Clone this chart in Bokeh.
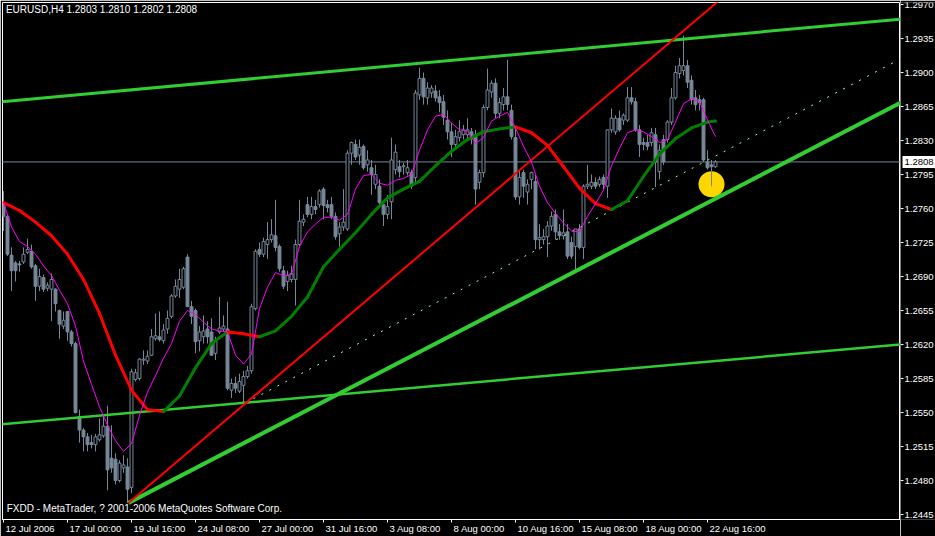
from bokeh.plotting import figure
from bokeh.layouts import row
from bokeh.models import (Range1d, FixedTicker, Label, ColumnDataSource, LinearAxis)
from bokeh.core.properties import value
from bokeh.embed import file_html
from bokeh.resources import INLINE

# ---------------- data (EURUSD H4, bar index 0 = 12 Jul 2006) ----------------
opens = [1.2764,1.2752,1.2712,1.2704,1.2703,1.2705,1.2715,1.2716,1.2701,1.2680,
1.2689,1.2678,1.2677,1.2677,1.2655,1.2639,1.2654,1.2633,1.2621,1.2546,
1.2532,1.2525,1.2519,1.2517,1.2522,1.2526,1.2536,1.2503,1.2502,1.2480,
1.2493,1.2494,1.2473,1.2584,1.2585,1.2604,1.2603,1.2609,1.2626,1.2628,
1.2624,1.2636,1.2649,1.2670,1.2677,1.2679,1.2710,1.2659,1.2655,1.2624,
1.2628,1.2636,1.2633,1.2611,1.2633,1.2636,1.2636,1.2573,1.2580,1.2572,
1.2578,1.2587,1.2593,1.2657,1.2718,1.2713,1.2723,1.2728,1.2732,1.2721,
1.2696,1.2685,1.2687,1.2687,1.2723,1.2746,1.2764,1.2754,1.2762,1.2764,
1.2780,1.2764,1.2764,1.2752,1.2734,1.2741,1.2739,1.2817,1.2826,1.2815,
1.2824,1.2805,1.2802,1.2785,1.2783,1.2764,1.2754,1.2767,1.2800,1.2803,
1.2803,1.2797,1.2797,1.2792,1.2877,1.2894,1.2874,1.2879,1.2881,1.2875,
1.2870,1.2851,1.2839,1.2826,1.2833,1.2836,1.2836,1.2839,1.2836,1.2787,
1.2797,1.2864,1.2880,1.2889,1.2858,1.2867,1.2875,1.2861,1.2833,1.2772,
1.2797,1.2777,1.2790,1.2788,1.2728,1.2728,1.2731,1.2742,1.2754,1.2736,
1.2732,1.2736,1.2725,1.2721,1.2739,1.2720,1.2783,1.2783,1.2787,1.2785,
1.2792,1.2783,1.2841,1.2839,1.2853,1.2851,1.2851,1.2874,1.2870,1.2841,
1.2828,1.2828,1.2828,1.2836,1.2798,1.2831,1.2831,1.2849,1.2874,1.2899,
1.2902,1.2907,1.2892,1.2874,1.2872,1.2872,1.2808,1.2805,1.2803]

highs = [1.2778,1.2754,1.2720,1.2706,1.2706,1.2720,1.2729,1.2723,1.2703,1.2698,
1.2692,1.2684,1.2693,1.2678,1.2656,1.2654,1.2654,1.2635,1.2623,1.2553,
1.2534,1.2529,1.2527,1.2528,1.2544,1.2547,1.2557,1.2537,1.2508,1.2501,
1.2506,1.2503,1.2595,1.2595,1.2606,1.2614,1.2614,1.2636,1.2652,1.2654,
1.2641,1.2655,1.2672,1.2687,1.2698,1.2700,1.2713,1.2665,1.2657,1.2639,
1.2650,1.2644,1.2647,1.2628,1.2669,1.2650,1.2664,1.2585,1.2587,1.2590,
1.2593,1.2598,1.2662,1.2718,1.2725,1.2730,1.2746,1.2749,1.2769,1.2723,
1.2701,1.2696,1.2701,1.2728,1.2769,1.2754,1.2772,1.2772,1.2769,1.2780,
1.2782,1.2769,1.2772,1.2756,1.2746,1.2780,1.2820,1.2829,1.2831,1.2831,
1.2826,1.2820,1.2810,1.2805,1.2790,1.2769,1.2774,1.2833,1.2826,1.2810,
1.2807,1.2810,1.2800,1.2882,1.2905,1.2900,1.2890,1.2887,1.2887,1.2882,
1.2877,1.2861,1.2848,1.2841,1.2851,1.2846,1.2853,1.2843,1.2841,1.2800,
1.2867,1.2904,1.2892,1.2894,1.2874,1.2884,1.2913,1.2867,1.2845,1.2800,
1.2800,1.2790,1.2798,1.2795,1.2744,1.2739,1.2747,1.2757,1.2759,1.2744,
1.2759,1.2744,1.2731,1.2739,1.2744,1.2785,1.2805,1.2795,1.2792,1.2793,
1.2795,1.2841,1.2863,1.2856,1.2861,1.2858,1.2885,1.2885,1.2874,1.2846,
1.2833,1.2836,1.2843,1.2843,1.2826,1.2836,1.2851,1.2884,1.2907,1.2915,
1.2938,1.2913,1.2897,1.2882,1.2877,1.2874,1.2820,1.2810,1.2810]

lows = [1.2737,1.2711,1.2675,1.2685,1.2695,1.2703,1.2713,1.2698,1.2665,1.2675,
1.2674,1.2675,1.2644,1.2654,1.2626,1.2636,1.2624,1.2618,1.2549,1.2519,
1.2510,1.2510,1.2513,1.2510,1.2520,1.2524,1.2470,1.2488,1.2476,1.2478,
1.2488,1.2457,1.2467,1.2582,1.2583,1.2599,1.2600,1.2608,1.2624,1.2623,
1.2621,1.2631,1.2647,1.2668,1.2668,1.2677,1.2659,1.2641,1.2611,1.2613,
1.2621,1.2621,1.2609,1.2604,1.2631,1.2633,1.2573,1.2565,1.2570,1.2570,
1.2557,1.2585,1.2590,1.2655,1.2710,1.2710,1.2708,1.2725,1.2716,1.2695,
1.2677,1.2675,1.2684,1.2660,1.2721,1.2742,1.2751,1.2749,1.2754,1.2761,
1.2749,1.2756,1.2749,1.2728,1.2721,1.2737,1.2737,1.2805,1.2810,1.2805,
1.2800,1.2798,1.2774,1.2780,1.2761,1.2742,1.2749,1.2749,1.2795,1.2792,
1.2795,1.2794,1.2780,1.2785,1.2872,1.2867,1.2867,1.2874,1.2870,1.2859,
1.2846,1.2831,1.2813,1.2820,1.2829,1.2831,1.2831,1.2826,1.2764,1.2780,
1.2792,1.2861,1.2874,1.2853,1.2853,1.2861,1.2861,1.2831,1.2769,1.2764,
1.2771,1.2764,1.2780,1.2718,1.2718,1.2723,1.2710,1.2737,1.2728,1.2728,
1.2728,1.2708,1.2708,1.2695,1.2718,1.2708,1.2780,1.2780,1.2780,1.2782,
1.2780,1.2771,1.2838,1.2836,1.2839,1.2846,1.2849,1.2867,1.2839,1.2813,
1.2820,1.2820,1.2824,1.2782,1.2790,1.2805,1.2828,1.2846,1.2872,1.2894,
1.2897,1.2884,1.2867,1.2861,1.2861,1.2808,1.2800,1.2783,1.2802]

closes = [1.2752,1.2713,1.2696,1.2696,1.2702,1.2713,1.2718,1.2700,1.2680,1.2690,
1.2677,1.2681,1.2687,1.2662,1.2641,1.2645,1.2633,1.2621,1.2550,1.2532,
1.2525,1.2517,1.2517,1.2525,1.2527,1.2536,1.2491,1.2493,1.2480,1.2498,
1.2496,1.2471,1.2592,1.2591,1.2605,1.2605,1.2608,1.2628,1.2629,1.2625,
1.2635,1.2647,1.2670,1.2680,1.2687,1.2698,1.2659,1.2649,1.2623,1.2633,
1.2634,1.2628,1.2609,1.2624,1.2637,1.2639,1.2575,1.2580,1.2575,1.2582,
1.2587,1.2593,1.2659,1.2716,1.2713,1.2726,1.2728,1.2733,1.2720,1.2698,
1.2680,1.2691,1.2693,1.2723,1.2747,1.2749,1.2754,1.2762,1.2759,1.2778,
1.2763,1.2761,1.2752,1.2731,1.2741,1.2746,1.2817,1.2828,1.2813,1.2823,
1.2802,1.2810,1.2795,1.2795,1.2766,1.2754,1.2762,1.2810,1.2818,1.2798,
1.2804,1.2802,1.2783,1.2879,1.2894,1.2875,1.2884,1.2884,1.2874,1.2869,
1.2854,1.2839,1.2826,1.2834,1.2839,1.2841,1.2841,1.2834,1.2780,1.2797,
1.2864,1.2882,1.2889,1.2858,1.2869,1.2875,1.2867,1.2834,1.2772,1.2792,
1.2783,1.2785,1.2797,1.2728,1.2730,1.2731,1.2742,1.2752,1.2736,1.2732,
1.2735,1.2711,1.2711,1.2739,1.2720,1.2783,1.2785,1.2787,1.2783,1.2790,
1.2785,1.2841,1.2853,1.2853,1.2841,1.2856,1.2874,1.2870,1.2841,1.2826,
1.2826,1.2824,1.2838,1.2808,1.2820,1.2808,1.2849,1.2874,1.2900,1.2907,
1.2907,1.2890,1.2872,1.2867,1.2869,1.2810,1.2802,1.2803,1.2808]

# fast moving average (magenta), one value every 2 bars
fast_ma_bars = list(range(0, 179, 2))
fast_ma = [1.2766,1.2741,1.2726,1.2721,1.2713,1.2701,1.2691,1.2676,1.2662,1.2639,
1.2603,1.2579,1.2556,1.2537,1.2521,1.2510,1.2518,1.2547,1.2571,1.2588,
1.2606,1.2621,1.2644,1.2655,1.2651,1.2643,1.2636,1.2634,1.2633,1.2609,
1.2600,1.2610,1.2657,1.2679,1.2694,1.2691,1.2692,1.2721,1.2736,1.2744,
1.2751,1.2751,1.2748,1.2754,1.2780,1.2794,1.2795,1.2786,1.2784,1.2789,
1.2791,1.2795,1.2820,1.2841,1.2855,1.2857,1.2848,1.2841,1.2840,1.2827,
1.2833,1.2850,1.2855,1.2859,1.2843,1.2824,1.2808,1.2783,1.2766,1.2755,
1.2745,1.2737,1.2736,1.2752,1.2765,1.2779,1.2804,1.2822,1.2838,1.2841,
1.2839,1.2834,1.2828,1.2831,1.2849,1.2868,1.2873,1.2870,1.2851,1.2834]

# slow moving average (red while falling, green while rising), every 4 bars
slow_ma_bars = list(range(0, 177, 4)) + [178]
slow_ma = [1.2766,1.2758,1.2746,1.2732,1.2713,1.2687,1.2652,1.2609,1.2573,1.2553,
1.2551,1.2567,1.2596,1.2621,1.2633,1.2631,1.2628,1.2634,1.2649,1.2669,
1.2700,1.2718,1.2735,1.2754,1.2771,1.2780,1.2788,1.2804,1.2819,1.2831,
1.2839,1.2842,1.2844,1.2838,1.2825,1.2803,1.2781,1.2765,1.2759,1.2768,
1.2793,1.2816,1.2832,1.2843,1.2849,1.2850]

# hand-drawn trend lines: (bar, price) anchor pairs
top_channel = [(-0.25, 1.2870), (224.25, 1.2955)]
low_channel = [(-0.25, 1.2538), (224.25, 1.2620)]
support_ray = [(31.25, 1.2457), (224.25, 1.2869)]
steep_ray = [(31.25, 1.2457), (170.0, 1.2943)]
dotted_ray = [(60.5, 1.2560), (224.25, 1.2914)]

mark_bar, mark_price = 177, 1.2785

x_tick_bars = [0, 16, 32, 48, 64, 80, 96, 112, 128, 144, 160, 176]
x_tick_labels = ["12 Jul 2006", "17 Jul 00:00", "19 Jul 16:00", "24 Jul 08:00",
                 "27 Jul 00:00", "31 Jul 16:00", "3 Aug 08:00", "8 Aug 00:00",
                 "10 Aug 16:00", "15 Aug 08:00", "18 Aug 00:00", "22 Aug 16:00"]
y_ticks = [1.2445, 1.2480, 1.2515, 1.2550, 1.2585, 1.2620, 1.2655, 1.2690,
           1.2725, 1.2760, 1.2795, 1.2830, 1.2865, 1.2900, 1.2935, 1.2970]

# ---------------- layout constants ----------------
FONT = "Liberation Sans"
GREY = "#778899"
LIME = "#32CD32"
X0, X1 = -0.25, 224.25
Y0, Y1 = 1.24399, 1.29721
H = 536
CHART_W, SCALE_W = 900, 35
TOP_B, BOT_B = 2, 14
FRAME_W = CHART_W - 2
AFS = "9.5px"

# ---------------- main chart ----------------
chart = figure(width=CHART_W, height=H, x_range=Range1d(X0, X1), y_range=Range1d(Y0, Y1),
               output_backend="svg", toolbar_location=None,
               y_axis_location=None, x_axis_location="below",
               background_fill_color="black", border_fill_color="black",
               min_border_left=2, min_border_top=TOP_B, min_border_right=0,
               min_border_bottom=BOT_B)
chart.grid.visible = False
chart.outline_line_color = "white"
chart.outline_line_width = 1

ax = chart.xaxis[0]
ax.ticker = FixedTicker(ticks=x_tick_bars)
ax.major_label_overrides = {b: "" for b in x_tick_bars}
ax.major_label_text_font_size = "1px"
ax.major_label_standoff = 0
ax.axis_line_color = "white"
ax.major_tick_line_color = "white"
ax.minor_tick_line_color = None
ax.major_tick_in = 0
ax.major_tick_out = 3

# date labels: a second axis whose labels start just right of each tick
CW = {"J": 0.5, "u": 0.556, "l": 0.222, "A": 0.667, "g": 0.556, " ": 0.278, ":": 0.278}
XFS = 9.5
px_per_bar = FRAME_W / (X1 - X0)
lab_pos = [round(b + (2 + XFS * sum(CW.get(c, 0.556) for c in l) / 2) / px_per_bar, 3)
           for b, l in zip(x_tick_bars, x_tick_labels)]
lab_axis = LinearAxis(ticker=FixedTicker(ticks=lab_pos),
                      major_label_overrides={q: l for q, l in zip(lab_pos, x_tick_labels)},
                      axis_line_color=None, major_tick_line_color=None,
                      minor_tick_line_color=None, major_tick_in=0, major_tick_out=0,
                      major_label_standoff=0, major_label_text_color="white",
                      major_label_text_font=FONT, major_label_text_font_size=AFS)
chart.add_layout(lab_axis, "below")

# current bid line
chart.line([X0 - 5, X1 + 5], [closes[-1]] * 2, line_color=GREY, line_width=1)

# yellow marker
chart.scatter([mark_bar], [mark_price], size=26, fill_color="#FFD700", line_color=None)

# candles
bars = list(range(len(closes)))
up = [c >= o for o, c in zip(opens, closes)]
src = ColumnDataSource(dict(
    x=bars, high=highs, low=lows,
    top=[max(o, c) for o, c in zip(opens, closes)],
    bottom=[min(o, c) for o, c in zip(opens, closes)],
    fill=["black" if u else GREY for u in up]))
chart.segment("x", "high", "x", "low", source=src, line_color=GREY, line_width=1)
chart.vbar(x="x", width=0.72, top="top", bottom="bottom", source=src,
           fill_color="fill", line_color=GREY, line_width=1)


def extend(anchor, xa, xb):
    (ax_, ay), (bx, by) = anchor
    k = (by - ay) / (bx - ax_)
    return [xa, xb], [ay + k * (xa - ax_), ay + k * (xb - ax_)]


xs, ys = extend(top_channel, X0 - 5, X1 + 5)
chart.line(xs, ys, line_color=LIME, line_width=3)
xs, ys = extend(low_channel, X0 - 5, X1 + 5)
chart.line(xs, ys, line_color=LIME, line_width=2.5)
xs, ys = extend(support_ray, support_ray[0][0], X1 + 5)
chart.line(xs, ys, line_color=LIME, line_width=4)
xs, ys = extend(dotted_ray, dotted_ray[0][0], X1 + 5)
chart.line(xs, ys, line_color="#A8FFA8", line_width=1, line_dash="2 7")
xs, ys = extend(steep_ray, steep_ray[0][0], X1 + 5)
chart.line(xs, ys, line_color="#FF0000", line_width=2)

# slow MA, coloured by direction
sx0, sy0, sx1, sy1, scol = [], [], [], [], []
for k in range(len(slow_ma) - 1):
    sx0.append(slow_ma_bars[k]); sy0.append(slow_ma[k])
    sx1.append(slow_ma_bars[k + 1]); sy1.append(slow_ma[k + 1])
    scol.append("#FF0000" if slow_ma[k + 1] < slow_ma[k] else "#008000")
chart.segment(sx0, sy0, sx1, sy1, line_color=scol, line_width=3, line_cap="round")

# fast MA
chart.line(fast_ma_bars, fast_ma, line_color="#FF00FF", line_width=1)

# texts
chart.add_layout(Label(x=0.6, y=1.29705, text="EURUSD,H4  %.4f %.4f %.4f %.4f" %
                       (opens[-1], highs[-1], lows[-1], closes[-1]),
                       text_baseline="top", text_color="white",
                       text_font=FONT, text_font_size="10px"))
chart.add_layout(Label(x=0.8, y=1.2446,
                       text="FXDD - MetaTrader, ? 2001-2006 MetaQuotes Software Corp.",
                       text_baseline="bottom", text_color="white",
                       text_font=FONT, text_font_size="10px"))

# ---------------- price scale (same price range; the row aligns the frames) ----------------
scale = figure(width=SCALE_W, height=H, x_range=Range1d(0, SCALE_W), y_range=chart.y_range,
               output_backend="svg", toolbar_location=None,
               x_axis_location=None, y_axis_location=None,
               background_fill_color="black", border_fill_color="black",
               min_border_left=0, min_border_right=0, min_border_top=TOP_B,
               min_border_bottom=BOT_B)
scale.grid.visible = False
scale.outline_line_color = None
scale.segment(x0=[0] * len(y_ticks), y0=y_ticks, x1=[3] * len(y_ticks), y1=y_ticks,
              line_color="white", line_width=1)
scale.text(x=[4] * len(y_ticks), y=y_ticks, text=["%.4f" % t for t in y_ticks],
           text_baseline="middle", text_align="left", text_color="white",
           text_font=value(FONT), text_font_size=AFS)
scale.rect(x=[SCALE_W / 2 + 1], y=[closes[-1]], width=[SCALE_W - 2], height=[12],
           height_units="screen", fill_color="white", line_color=None)
scale.text(x=[4], y=[closes[-1]], text=["%.4f" % closes[-1]],
           text_baseline="middle", text_align="left", text_color="black",
           text_font=value(FONT), text_font_size=AFS)

p = row(chart, scale)
open("out.html", "w").write(file_html(p, INLINE))
